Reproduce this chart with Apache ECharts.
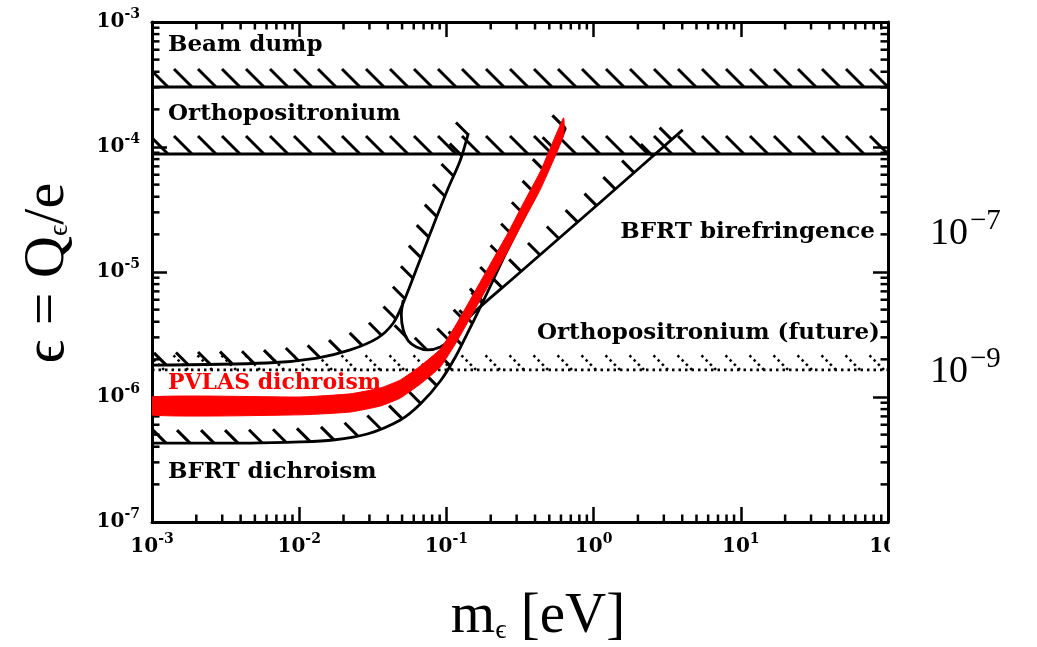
<!DOCTYPE html>
<html>
<head>
<meta charset="utf-8">
<script src="https://cdn.jsdelivr.net/npm/echarts@6/dist/echarts.min.js"></script>
<style>
  html, body { margin: 0; padding: 0; background: #fff; }
  #chart { width: 1037px; height: 647px; }
</style>
</head>
<body>
<div id="chart"></div>
<script>
// Axis ranges: particle mass m (eV) against fractional charge eps
const xMin = 1e-3, xMax = 1e2;
const yMin = 1e-7, yMax = 1e-3;
const xTickExps = ['-3', '-2', '-1', '0', '1', '2'];
const yTickExps = ['-7', '-6', '-5', '-4', '-3'];

// Horizontal limits
const beamDumpEps = 3.02e-4;
const orthoEps = 8.8e-5;
const orthoFutureEps = 1.65e-6;

// BFRT dichroism bound
const dichroMass = [0.001, 0.00465, 0.0102, 0.017, 0.029, 0.0487, 0.0665, 0.091, 0.1151, 0.1413, 0.1703, 0.199, 0.260, 0.436, 0.645];
const dichroEps  = [4.28e-7, 4.28e-7, 4.37e-7, 4.53e-7, 5.06e-7, 6.55e-7, 8.79e-7, 1.343e-6, 2.09e-6, 3.37e-6, 5.25e-6, 7.73e-6, 1.50e-5, 5.06e-5, 1.42e-4];

// BFRT birefringence bound, first branch
const birefAMass = [0.001, 0.00605, 0.01324, 0.0222, 0.034, 0.0436, 0.0509, 0.0635, 0.0778, 0.1016, 0.1245, 0.141];
const birefAEps  = [1.80e-6, 1.87e-6, 2.05e-6, 2.38e-6, 2.96e-6, 3.91e-6, 5.65e-6, 1.10e-5, 2.05e-5, 4.53e-5, 7.87e-5, 1.29e-4];

// BFRT birefringence bound, second branch
const birefBMass = [0.0509, 0.0494, 0.0509, 0.0551, 0.0625, 0.0743, 0.091, 0.110, 0.1455, 0.2858, 1.117, 4.03];
const birefBEps  = [5.97e-6, 4.53e-6, 3.44e-6, 2.81e-6, 2.51e-6, 2.38e-6, 2.51e-6, 2.96e-6, 4.45e-6, 8.95e-6, 3.63e-5, 1.37e-4];

// PVLAS dichroism band (lower and upper edges)
const pvlasMass = [0.001, 0.0102, 0.0222, 0.0356, 0.0487, 0.0665, 0.091, 0.117, 0.1528, 0.199, 0.260, 0.334, 0.436, 0.625];
const pvlasLow  = [7.18e-7, 7.2e-7, 7.58e-7, 8.47e-7, 9.83e-7, 1.27e-6, 1.74e-6, 2.75e-6, 4.79e-6, 8.32e-6, 1.45e-5, 2.56e-5, 4.61e-5, 1.23e-4];
const pvlasHigh = [1.0e-6, 1.0e-6, 1.06e-6, 1.18e-6, 1.37e-6, 1.77e-6, 2.42e-6, 3.84e-6, 6.67e-6, 1.16e-5, 2.02e-5, 3.56e-5, 6.42e-5, 1.71e-4];

const labelFont = 'DejaVu Serif';
const mathFont = 'Liberation Serif, DejaVu Serif';

const zip = (xs, ys) => xs.map((x, i) => [x, ys[i]]);

// Minor tick positions: 2..9 within each decade
function minorTicks(lo, hi) {
  const out = [];
  for (let e = Math.round(Math.log10(lo)); e < Math.round(Math.log10(hi)); e++) {
    for (let k = 2; k <= 9; k++) out.push(k * Math.pow(10, e));
  }
  return out;
}
const xMinor = minorTicks(xMin, xMax);
const yMinor = minorTicks(yMin, yMax);

// Short diagonal strokes laid along a curve, marking the excluded side
function hatchRender(xs, ys, o) {
  return function (params, api) {
    const pts = xs.map((x, i) => api.coord([x, ys[i]]));
    const kids = [];
    let next = o.offset, run = 0;
    for (let i = 1; i < pts.length; i++) {
      const a = pts[i - 1], b = pts[i];
      const seg = Math.hypot(b[0] - a[0], b[1] - a[1]);
      while (next <= run + seg) {
        const t = (next - run) / seg;
        const px = a[0] + (b[0] - a[0]) * t, py = a[1] + (b[1] - a[1]) * t;
        kids.push({
          type: 'line',
          shape: { x1: px, y1: py, x2: px - o.len, y2: py - o.len },
          style: { stroke: '#000', lineWidth: o.width || 2.8, lineDash: o.dash || null, lineCap: 'butt' }
        });
        next += o.step;
      }
      run += seg;
    }
    return { type: 'group', children: kids };
  };
}

function hatchSeries(xs, ys, o) {
  return {
    type: 'custom', coordinateSystem: 'cartesian2d', silent: true, clip: true, z: 2,
    data: [[xs[0], ys[0]]],
    renderItem: hatchRender(xs, ys, o)
  };
}

function lineSeries(xs, ys, extra) {
  return Object.assign({
    type: 'line', data: zip(xs, ys), showSymbol: false, silent: true, clip: true, z: 3,
    smooth: 0.3,
    lineStyle: { color: '#000', width: 2.8 }
  }, extra || {});
}

// Inward minor ticks on all four sides
const minorTickSeries = {
  type: 'custom', coordinateSystem: 'cartesian2d', silent: true, clip: false, z: 5,
  data: [[xMin, yMin]],
  renderItem: function (params, api) {
    const kids = [];
    const st = { stroke: '#000', lineWidth: 2.5 };
    xMinor.forEach(v => {
      const b = api.coord([v, yMin]), t = api.coord([v, yMax]);
      kids.push({ type: 'line', shape: { x1: b[0], y1: b[1], x2: b[0], y2: b[1] - 7.5 }, style: st });
      kids.push({ type: 'line', shape: { x1: t[0], y1: t[1], x2: t[0], y2: t[1] + 7.5 }, style: st });
    });
    yMinor.forEach(v => {
      const l = api.coord([xMin, v]), r = api.coord([xMax, v]);
      kids.push({ type: 'line', shape: { x1: l[0], y1: l[1], x2: l[0] + 7.5, y2: l[1] }, style: st });
      kids.push({ type: 'line', shape: { x1: r[0], y1: r[1], x2: r[0] - 7.5, y2: r[1] }, style: st });
    });
    return { type: 'group', children: kids };
  }
};

// PVLAS band as a filled polygon
const pvlasSeries = {
  type: 'custom', coordinateSystem: 'cartesian2d', silent: true, clip: true, z: 6,
  data: [[pvlasMass[0], pvlasLow[0]]],
  renderItem: function (params, api) {
    const lower = pvlasMass.map((m, i) => api.coord([m, pvlasLow[i]]));
    const upper = pvlasMass.map((m, i) => api.coord([m, pvlasHigh[i]])).reverse();
    return {
      type: 'polygon',
      shape: { points: lower.concat(upper), smooth: 0.15 },
      style: { fill: '#ff0000', stroke: '#ff0000', lineWidth: 1 }
    };
  }
};

function expLabel(exps) {
  return function (v) {
    const e = String(Math.round(Math.log10(v)));
    const idx = exps.indexOf(e);
    if (idx < 0) return '';
    return '{b|10}{s|' + exps[idx] + '}';
  };
}
const tickRich = {
  b: { fontFamily: labelFont, fontWeight: 'bold', fontSize: 20, color: '#000' },
  s: { fontFamily: labelFont, fontWeight: 'bold', fontSize: 14, color: '#000', padding: [0, 0, 16, 0] }
};

const axisCommon = {
  type: 'log', logBase: 10,
  axisLine: { show: true, onZero: false, lineStyle: { color: '#000', width: 3 } },
  axisTick: { show: true, inside: true, length: 15, lineStyle: { color: '#000', width: 2.5 } },
  splitLine: { show: false }
};

const option = {
  animation: false,
  backgroundColor: '#fff',
  grid: { left: 152, top: 22, width: 736, height: 500, containLabel: false },
  xAxis: [
    Object.assign({}, axisCommon, {
      position: 'bottom', min: xMin, max: xMax,
      axisLabel: { show: true, margin: 10, formatter: expLabel(xTickExps), rich: tickRich, showMinLabel: true, showMaxLabel: true }
    }),
    Object.assign({}, axisCommon, { position: 'top', min: xMin, max: xMax, axisLabel: { show: false } })
  ],
  yAxis: [
    Object.assign({}, axisCommon, {
      position: 'left', min: yMin, max: yMax,
      axisLabel: { show: true, margin: 12, formatter: expLabel(yTickExps), rich: tickRich, showMinLabel: true, showMaxLabel: true }
    }),
    Object.assign({}, axisCommon, { position: 'right', min: yMin, max: yMax, axisLabel: { show: false } })
  ],
  series: [
    // excluded-side hatching
    hatchSeries([xMin, xMax], [beamDumpEps, beamDumpEps], { offset: 16, step: 24, len: 18, width: 3 }),
    hatchSeries([xMin, xMax], [orthoEps, orthoEps], { offset: 16, step: 24, len: 18, width: 3 }),
    hatchSeries([xMin, xMax], [orthoFutureEps, orthoFutureEps], { offset: 12, step: 24, len: 17, width: 2.6, dash: [2.5, 3.5] }),
    hatchSeries(dichroMass, dichroEps, { offset: 14, step: 24, len: 13, width: 3 }),
    hatchSeries(birefAMass, birefAEps, { offset: 14, step: 22, len: 12, width: 3 }),
    hatchSeries(birefBMass.slice(2), birefBEps.slice(2), { offset: 8, step: 25, len: 12, width: 3 }),
    // bounds
    lineSeries([xMin, xMax], [beamDumpEps, beamDumpEps], { smooth: false, lineStyle: { color: '#000', width: 3 } }),
    lineSeries([xMin, xMax], [orthoEps, orthoEps], { smooth: false, lineStyle: { color: '#000', width: 3 } }),
    lineSeries([xMin, xMax], [orthoFutureEps, orthoFutureEps], { smooth: false, lineStyle: { color: '#000', width: 2.8, type: [2.5, 4] } }),
    lineSeries(dichroMass, dichroEps),
    lineSeries(birefAMass, birefAEps),
    lineSeries(birefBMass, birefBEps),
    pvlasSeries,
    minorTickSeries
  ],
  graphic: [
    { type: 'text', x: 168, y: 45, z: 10, style: { text: 'Beam dump', font: 'bold 23px "DejaVu Serif"', fill: '#000', verticalAlign: 'middle' } },
    { type: 'text', x: 168, y: 114, z: 10, style: { text: 'Orthopositronium', font: 'bold 23px "DejaVu Serif"', fill: '#000', verticalAlign: 'middle' } },
    { type: 'text', x: 875, y: 232, z: 10, style: { text: 'BFRT birefringence', font: 'bold 23px "DejaVu Serif"', fill: '#000', align: 'right', verticalAlign: 'middle' } },
    { type: 'text', x: 880, y: 333, z: 10, style: { text: 'Orthopositronium (future)', font: 'bold 23px "DejaVu Serif"', fill: '#000', align: 'right', verticalAlign: 'middle' } },
    { type: 'text', x: 168, y: 383, z: 10, style: { text: 'PVLAS dichroism', font: 'bold 22px "DejaVu Serif"', fill: '#ff0000', verticalAlign: 'middle' } },
    { type: 'text', x: 168, y: 472, z: 10, style: { text: 'BFRT dichroism', font: 'bold 23px "DejaVu Serif"', fill: '#000', verticalAlign: 'middle' } },
    // clip of the last bottom tick label at the frame edge
    { type: 'rect', z: 20, shape: { x: 890, y: 528, width: 40, height: 40 }, style: { fill: '#fff' } },
    // exponent markers right of the frame
    { type: 'text', x: 930, y: 234, z: 10, style: {
        text: '{b|10}{s|\u22127}', verticalAlign: 'middle',
        rich: { b: { fontFamily: mathFont, fontSize: 38, fill: '#000' }, s: { fontFamily: mathFont, fontSize: 29, fill: '#000', padding: [0, 0, 26, 2] } } } },
    { type: 'text', x: 930, y: 372, z: 10, style: {
        text: '{b|10}{s|\u22129}', verticalAlign: 'middle',
        rich: { b: { fontFamily: mathFont, fontSize: 38, fill: '#000' }, s: { fontFamily: mathFont, fontSize: 29, fill: '#000', padding: [0, 0, 26, 2] } } } },
    // axis titles
    { type: 'text', x: 48, y: 273, rotation: Math.PI / 2, z: 10, style: {
        text: '{a|\u03f5 = Q}{s|\u03f5}{a|/e}', align: 'center', verticalAlign: 'middle',
        rich: { a: { fontFamily: mathFont, fontSize: 58, fill: '#000' }, s: { fontFamily: mathFont, fontSize: 28, fill: '#000', padding: [24, 0, 0, 0] } } } },
    { type: 'text', x: 538, y: 617, z: 10, style: {
        text: '{a|m}{s|\u03f5}{a| [eV]}', align: 'center', verticalAlign: 'middle',
        rich: { a: { fontFamily: mathFont, fontSize: 57, fill: '#000' }, s: { fontFamily: mathFont, fontSize: 28, fill: '#000', padding: [28, 0, 0, 0] } } } }
  ]
};

const chart = echarts.init(document.getElementById('chart'), null, { renderer: 'canvas' });
chart.setOption(option);
</script>
</body>
</html>
